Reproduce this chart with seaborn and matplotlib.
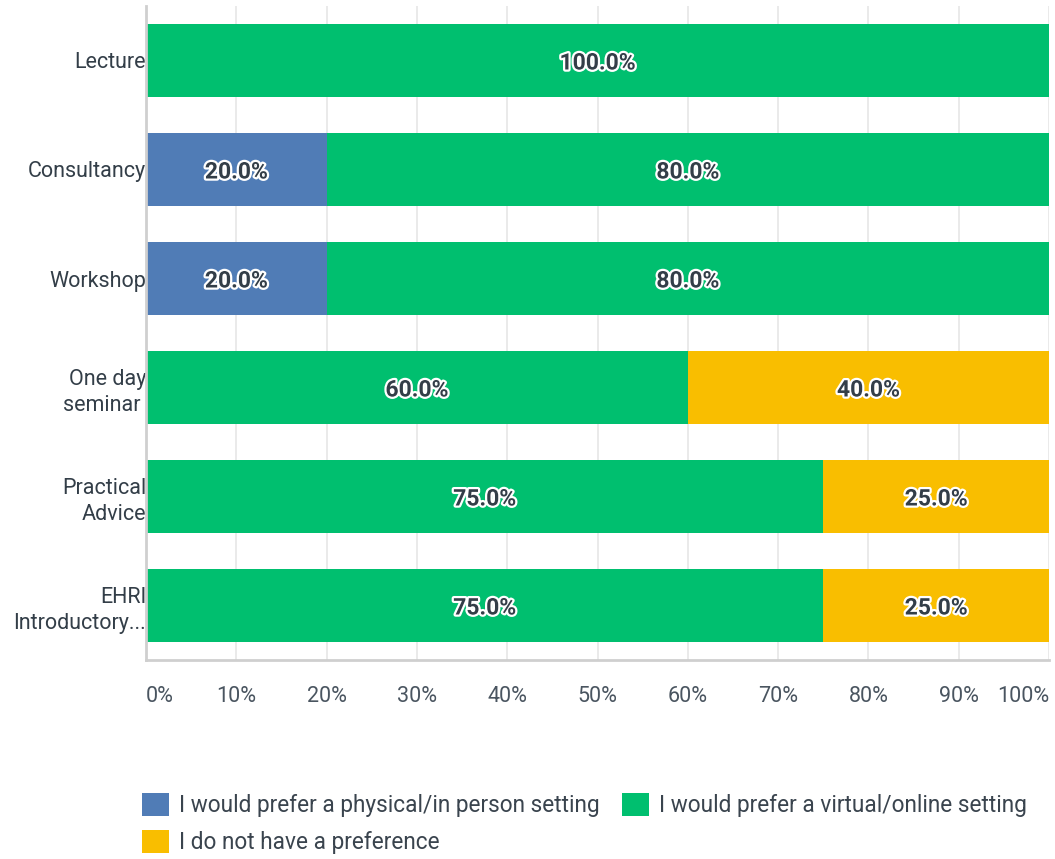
import numpy as np
import pandas as pd
import matplotlib
matplotlib.use('Agg')
import matplotlib.pyplot as plt
import matplotlib.patheffects as pe
from matplotlib.patches import Patch
import seaborn as sns

categories = ['Lecture', 'Consultancy', 'Workshop', 'One day\nseminar ', 'Practical\nAdvice', 'EHRI\nIntroductory...']
physical = [0.0, 20.0, 20.0, 0.0, 0.0, 0.0]
virtual = [100.0, 80.0, 80.0, 60.0, 75.0, 75.0]
no_pref = [0.0, 0.0, 0.0, 40.0, 25.0, 25.0]
series_names = ['I would prefer a physical/in person setting',
                'I would prefer a virtual/online setting',
                'I do not have a preference']
colors = ['#507cb6', '#00bf6f', '#f9be00']
tick_vals = [0, 10, 20, 30, 40, 50, 60, 70, 80, 90, 100]
tick_labels = ['0%', '10%', '20%', '30%', '40%', '50%', '60%', '70%', '80%', '90%', '100%']

sns.set_theme(style='white')
plt.rcParams['font.family'] = ['Roboto', 'DejaVu Sans']
text_col = '#333e48'

df = pd.DataFrame({'cat': categories, 'phys': physical, 'virt': virtual, 'nopref': no_pref})
df['c1'] = df['phys']
df['c2'] = df['phys'] + df['virt']
df['c3'] = df['c2'] + df['nopref']

fig = plt.figure(figsize=(10.55, 8.59), dpi=100)
ax = fig.add_axes([146 / 1055, 1 - 660 / 859, (1049 - 146) / 1055, (660 - 6) / 859])

# stacked bars: draw cumulative totals back to front
for col, c in zip(['c3', 'c2', 'c1'], colors[::-1]):
    sns.barplot(data=df, y='cat', x=col, orient='h', color=c, width=0.67,
                saturation=1, ax=ax, linewidth=0, zorder=2)

# segment labels
stroke = [pe.withStroke(linewidth=3.2, foreground='white')]
for i, row in df.iterrows():
    left = 0.0
    for val in (row['phys'], row['virt'], row['nopref']):
        if val > 0:
            ax.text(left + val / 2, i, f'{val:.1f}%', ha='center', va='center_baseline',
                    fontsize=16.5, fontweight='bold', color=text_col,
                    path_effects=stroke, zorder=5)
        left += val

ax.set_xlim(0, 100)
ax.set_ylim(5.5, -0.5)
ax.set_xlabel('')
ax.set_ylabel('')
ax.set_xticks(tick_vals)
ax.set_xticklabels(tick_labels, fontsize=15.5, color='#4a5560')
for lbl, v in zip(ax.get_xticklabels(), tick_vals):
    if v == 0:
        lbl.set_ha('left')
    elif v == 100:
        lbl.set_ha('right')
ax.tick_params(axis='x', length=0, pad=19)
ax.tick_params(axis='y', length=0, pad=0)
for lbl in ax.get_yticklabels():
    lbl.set_fontsize(15.5)
    lbl.set_color(text_col)
    lbl.set_multialignment('right')
    lbl.set_linespacing(1.3)
ax.grid(axis='x', color='#e6e6e6', linewidth=1.2, zorder=0)
ax.set_axisbelow(True)
for s in ['top', 'right']:
    ax.spines[s].set_visible(False)
for s in ['left', 'bottom']:
    ax.spines[s].set_color('#cfcfcf')
    ax.spines[s].set_linewidth(2)

# row-major legend order: matplotlib fills columns first
handles = [Patch(facecolor=c, edgecolor='none') for c in colors]
order = [0, 2, 1]
leg = fig.legend([handles[k] for k in order], [series_names[k] for k in order],
                 loc='upper left', ncol=2,
                 bbox_to_anchor=(142 / 1055, 1 - 793 / 859), frameon=False,
                 fontsize=16.3, handlelength=1.2, handleheight=1.2,
                 handletextpad=0.42, columnspacing=1.0, labelspacing=0.55,
                 borderaxespad=0, borderpad=0)
for t in leg.get_texts():
    t.set_color('#3a444e')
    t.set_fontweight('normal')

fig.savefig('out.png', dpi=100)
